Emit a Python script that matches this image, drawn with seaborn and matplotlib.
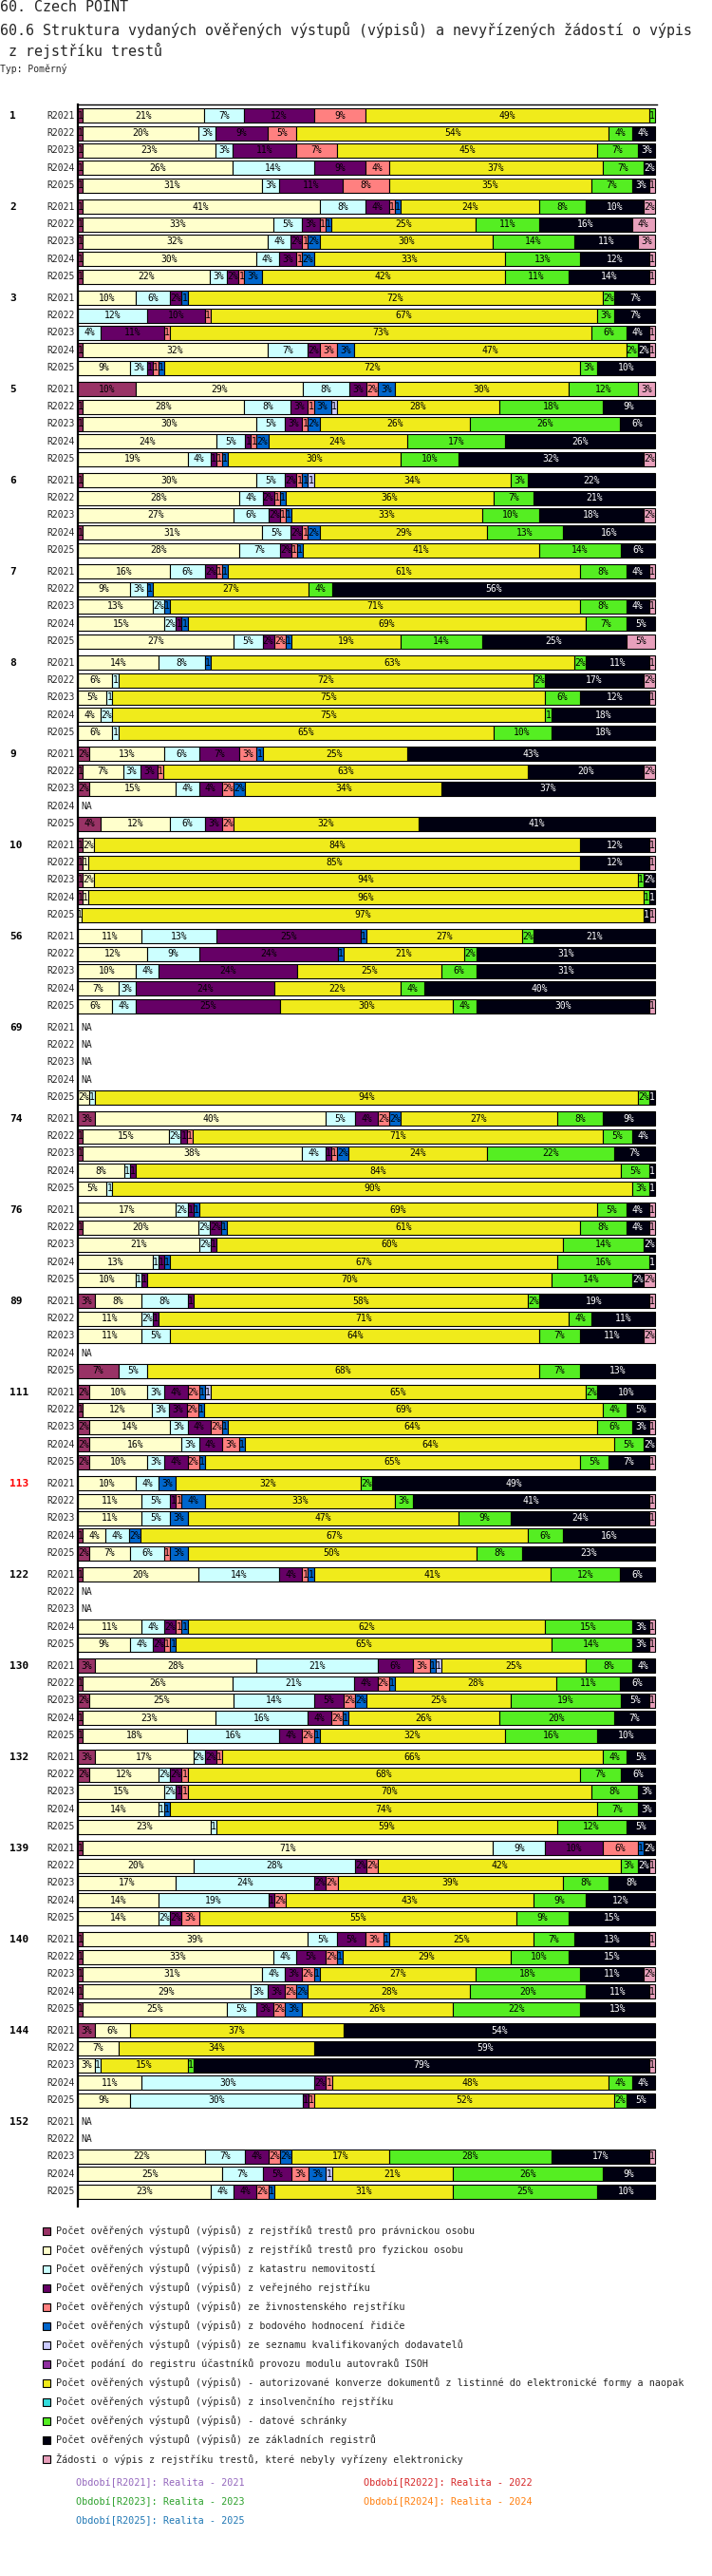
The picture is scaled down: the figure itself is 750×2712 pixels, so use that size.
import numpy as np
import pandas as pd
import matplotlib
matplotlib.use("Agg")
import matplotlib.pyplot as plt
import matplotlib.patches as mpatches
import seaborn as sns

# -----------------------------
# DATA
# -----------------------------

categories = [
    "Počet ověřených výstupů (výpisů) z rejstříků trestů pro právnickou osobu",
    "Počet ověřených výstupů (výpisů) z rejstříků trestů pro fyzickou osobu",
    "Počet ověřených výstupů (výpisů) z katastru nemovitostí",
    "Počet ověřených výstupů (výpisů) z veřejného rejstříku",
    "Počet ověřených výstupů (výpisů) ze živnostenského rejstříku",
    "Počet ověřených výstupů (výpisů) z bodového hodnocení řidiče",
    "Počet ověřených výstupů (výpisů) ze seznamu kvalifikovaných dodavatelů",
    "Počet podání do registru účastníků provozu modulu autovraků ISOH",
    "Počet ověřených výstupů (výpisů) - autorizované konverze dokumentů z listinné do elektronické formy a naopak",
    "Počet ověřených výstupů (výpisů) z insolvenčního rejstříku",
    "Počet ověřených výstupů (výpisů) - datové schránky",
    "Počet ověřených výstupů (výpisů) ze základních registrů",
    "Žádosti o výpis z rejstříku trestů, které nebyly vyřízeny elektronicky",
]

colors = ["#993366", "#FFFFCC", "#CCFFFF", "#660066", "#FF8080", "#0066CC",
          "#CCCCFF", "#9030A0", "#F0EB1B", "#33DDDD", "#55EE22", "#000011",
          "#E8A0BC"]

periods = ["R2021", "R2022", "R2023", "R2024", "R2025"]
period_names = ["Realita - 2021", "Realita - 2022", "Realita - 2023",
                "Realita - 2024", "Realita - 2025"]
period_colors = ["#9467BD", "#D62728", "#2CA02C", "#FF7F0E", "#1F77B4"]

groups = ["1", "2", "3", "5", "6", "7", "8", "9", "10", "56", "69", "74", "76",
          "89", "111", "113", "122", "130", "132", "139", "140", "144", "152"]

# one row per period, values per category (None = NA)
g1 = [[0.8, 21, 7, 12, 9, 0, 0, 0, 49, 0, 1, 0, 0],
      [0.8, 20, 3, 9, 5, 0, 0, 0, 54, 0, 4, 4, 0],
      [0.8, 23, 3, 11, 7, 0, 0, 0, 45, 0, 7, 3, 0],
      [0.8, 26, 14, 9, 4, 0, 0, 0, 37, 0, 7, 2, 0],
      [0.8, 31, 3, 11, 8, 0, 0, 0, 35, 0, 7, 3, 1]]
g2 = [[0.8, 41, 8, 4, 1, 1, 0, 0, 24, 0, 8, 10, 2],
      [0.8, 33, 5, 3, 1, 1, 0, 0, 25, 0, 11, 16, 4],
      [0.8, 32, 4, 2, 1, 2, 0, 0, 30, 0, 14, 11, 3],
      [0.8, 30, 4, 3, 1, 2, 0, 0, 33, 0, 13, 12, 1],
      [0.8, 22, 3, 2, 1, 3, 0, 0, 42, 0, 11, 14, 1]]
g3 = [[0, 10, 6, 2, 0, 1, 0, 0, 72, 0, 2, 7, 0],
      [0, 0, 12, 10, 1, 0, 0, 0, 67, 0, 3, 7, 0],
      [0, 0, 4, 11, 1, 0, 0, 0, 73, 0, 6, 4, 1],
      [0.8, 32, 7, 2, 3, 3, 0, 0, 47, 0, 2, 2, 1],
      [0, 9, 3, 1, 1, 1, 0, 0, 72, 0, 3, 10, 0]]
g5 = [[10, 29, 8, 3, 2, 3, 0, 0, 30, 0, 12, 0, 3],
      [0.8, 28, 8, 3, 1, 3, 1, 0, 28, 0, 18, 9, 0],
      [0.8, 30, 5, 3, 1, 2, 0, 0, 26, 0, 26, 6, 0],
      [0, 24, 5, 1, 1, 2, 0, 0, 24, 0, 17, 26, 0],
      [0, 19, 4, 1, 1, 1, 0, 0, 30, 0, 10, 32, 2]]
g6 = [[0.8, 30, 5, 2, 1, 1, 1, 0, 34, 0, 3, 22, 0],
      [0, 28, 4, 2, 1, 1, 0, 0, 36, 0, 7, 21, 0],
      [0, 27, 6, 2, 1, 1, 0, 0, 33, 0, 10, 18, 2],
      [0.8, 31, 5, 2, 1, 2, 0, 0, 29, 0, 13, 16, 0],
      [0, 28, 7, 2, 1, 1, 0, 0, 41, 0, 14, 6, 0]]
g7 = [[0, 16, 6, 2, 1, 1, 0, 0, 61, 0, 8, 4, 1],
      [0, 9, 3, 0, 0, 1, 0, 0, 27, 0, 4, 56, 0],
      [0, 13, 2, 0, 0, 1, 0, 0, 71, 0, 8, 4, 1],
      [0, 15, 2, 1, 0, 1, 0, 0, 69, 0, 7, 5, 0],
      [0, 27, 5, 2, 2, 1, 0, 0, 19, 0, 14, 25, 5]]
g8 = [[0, 14, 8, 0, 0, 1, 0, 0, 63, 0, 2, 11, 1],
      [0, 6, 1, 0, 0, 0, 0, 0, 72, 0, 2, 17, 2],
      [0, 5, 1, 0, 0, 0, 0, 0, 75, 0, 6, 12, 1],
      [0, 4, 2, 0, 0, 0, 0, 0, 75, 0, 1, 18, 0],
      [0, 6, 1, 0, 0, 0, 0, 0, 65, 0, 10, 18, 0]]
g9 = [[2, 13, 6, 7, 3, 1, 0, 0, 25, 0, 0, 43, 0],
      [0.8, 7, 3, 3, 1, 0, 0, 0, 63, 0, 0, 20, 2],
      [2, 15, 4, 4, 2, 2, 0, 0, 34, 0, 0, 37, 0],
      None,
      [4, 12, 6, 3, 2, 0, 0, 0, 32, 0, 0, 41, 0]]
g10 = [[0.8, 2, 0, 0, 0, 0, 0, 0, 84, 0, 0, 12, 1],
       [0.8, 1, 0, 0, 0, 0, 0, 0, 85, 0, 0, 12, 1],
       [0.8, 2, 0, 0, 0, 0, 0, 0, 94, 0, 1, 2, 0],
       [0.8, 1, 0, 0, 0, 0, 0, 0, 96, 0, 1, 1, 0],
       [0, 0.7, 0, 0, 0, 0, 0, 0, 97, 0, 0, 1, 1]]
g56 = [[0, 11, 13, 25, 0, 1, 0, 0, 27, 0, 2, 21, 0],
       [0, 12, 9, 24, 0, 1, 0, 0, 21, 0, 2, 31, 0],
       [0, 10, 4, 24, 0, 0, 0, 0, 25, 0, 6, 31, 0],
       [0, 7, 3, 24, 0, 0, 0, 0, 22, 0, 4, 40, 0],
       [0, 6, 4, 25, 0, 0, 0, 0, 30, 0, 4, 30, 1]]
g69 = [None, None, None, None,
       [0, 2, 1, 0, 0, 0, 0, 0, 94, 0, 2, 1, 0]]
g74 = [[3, 40, 5, 4, 2, 2, 0, 0, 27, 0, 8, 9, 0],
       [0.8, 15, 2, 1, 1, 0, 0, 0, 71, 0, 5, 4, 0],
       [0.8, 38, 4, 1, 1, 2, 0, 0, 24, 0, 22, 7, 0],
       [0, 8, 1, 1, 0, 0, 0, 0, 84, 0, 5, 1, 0],
       [0, 5, 1, 0, 0, 0, 0, 0, 90, 0, 3, 1, 0]]
g76 = [[0, 17, 2, 1, 0, 1, 0, 0, 69, 0, 5, 4, 1],
       [0.8, 20, 2, 2, 0, 1, 0, 0, 61, 0, 8, 4, 1],
       [0, 21, 2, 1, 0, 0, 0, 0, 60, 0, 14, 2, 0],
       [0, 13, 1, 1, 0, 1, 0, 0, 67, 0, 16, 1, 0],
       [0, 10, 1, 1, 0, 0, 0, 0, 70, 0, 14, 2, 2]]
g89 = [[3, 8, 8, 1, 0, 0, 0, 0, 58, 0, 2, 19, 1],
       [0, 11, 2, 1, 0, 0, 0, 0, 71, 0, 4, 11, 0],
       [0, 11, 5, 0, 0, 0, 0, 0, 64, 0, 7, 11, 2],
       None,
       [7, 0, 5, 0, 0, 0, 0, 0, 68, 0, 7, 13, 0]]
g111 = [[2, 10, 3, 4, 2, 1, 1, 0, 65, 0, 2, 10, 0],
        [0.8, 12, 3, 3, 2, 1, 0, 0, 69, 0, 4, 5, 0],
        [2, 14, 3, 4, 2, 1, 0, 0, 64, 0, 6, 3, 1],
        [2, 16, 3, 4, 3, 1, 0, 0, 64, 0, 5, 2, 0],
        [2, 10, 3, 4, 2, 1, 0, 0, 65, 0, 5, 7, 1]]
g113 = [[0, 10, 4, 0, 0, 3, 0, 0, 32, 0, 2, 49, 0],
        [0, 11, 5, 1, 1, 4, 0, 0, 33, 0, 3, 41, 1],
        [0, 11, 5, 0, 0, 3, 0, 0, 47, 0, 9, 24, 1],
        [0.8, 4, 4, 0, 0, 2, 0, 0, 67, 0, 6, 16, 0],
        [2, 7, 6, 0, 1, 3, 0, 0, 50, 0, 8, 23, 0]]
g122 = [[0.8, 20, 14, 4, 1, 1, 0, 0, 41, 0, 12, 6, 0],
        None,
        None,
        [0, 11, 4, 2, 1, 1, 0, 0, 62, 0, 15, 3, 1],
        [0, 9, 4, 2, 1, 1, 0, 0, 65, 0, 14, 3, 1]]
g130 = [[3, 28, 21, 6, 3, 1, 1, 0, 25, 0, 8, 4, 0],
        [0.8, 26, 21, 4, 2, 1, 0, 0, 28, 0, 11, 6, 0],
        [2, 25, 14, 5, 2, 2, 0, 0, 25, 0, 19, 5, 1],
        [0.8, 23, 16, 4, 2, 1, 0, 0, 26, 0, 20, 7, 0],
        [0.8, 18, 16, 4, 2, 1, 0, 0, 32, 0, 16, 10, 0]]
g132 = [[3, 17, 2, 2, 1, 0, 0, 0, 66, 0, 4, 5, 0],
        [2, 12, 2, 2, 1, 0, 0, 0, 68, 0, 7, 6, 0],
        [0, 15, 2, 1, 1, 0, 0, 0, 70, 0, 8, 3, 0],
        [0, 14, 1, 0, 0, 1, 0, 0, 74, 0, 7, 3, 0],
        [0, 23, 1, 0, 0, 0, 0, 0, 59, 0, 12, 5, 0]]
g139 = [[0.8, 71, 9, 10, 6, 1, 0, 0, 0, 0, 0, 2, 0],
        [0, 20, 28, 2, 2, 0, 0, 0, 42, 0, 3, 2, 1],
        [0, 17, 24, 2, 2, 0, 0, 0, 39, 0, 8, 8, 0],
        [0, 14, 19, 1, 2, 0, 0, 0, 43, 0, 9, 12, 0],
        [0, 14, 2, 2, 3, 0, 0, 0, 55, 0, 9, 15, 0]]
g140 = [[0.8, 39, 5, 5, 3, 1, 0, 0, 25, 0, 7, 13, 1],
        [0.8, 33, 4, 5, 2, 1, 0, 0, 29, 0, 10, 15, 0],
        [0.8, 31, 4, 3, 2, 1, 0, 0, 27, 0, 18, 11, 2],
        [0.8, 29, 3, 3, 2, 2, 0, 0, 28, 0, 20, 11, 1],
        [0.8, 25, 5, 3, 2, 3, 0, 0, 26, 0, 22, 13, 0]]
g144 = [[3, 6, 0, 0, 0, 0, 0, 0, 37, 0, 0, 54, 0],
        [0, 7, 0, 0, 0, 0, 0, 0, 34, 0, 0, 59, 0],
        [0, 3, 1, 0, 0, 0, 0, 0, 15, 0, 1, 79, 1],
        [0, 11, 30, 2, 1, 0, 0, 0, 48, 0, 4, 4, 0],
        [0, 9, 30, 1, 1, 0, 0, 0, 52, 0, 2, 5, 0]]
g152 = [None,
        None,
        [0, 22, 7, 4, 2, 2, 0, 0, 17, 0, 28, 17, 1],
        [0, 25, 7, 5, 3, 3, 1, 0, 21, 0, 26, 9, 0],
        [0, 23, 4, 4, 2, 1, 0, 0, 31, 0, 25, 10, 0]]

group_rows = [g1, g2, g3, g5, g6, g7, g8, g9, g10, g56, g69, g74, g76,
              g89, g111, g113, g122, g130, g132, g139, g140, g144, g152]

# -----------------------------
# TABLE OF SEGMENTS
# -----------------------------

records = []
na_rows = []
for gi, rows in enumerate(group_rows):
    for pi, row in enumerate(rows):
        if row is None:
            na_rows.append((gi, pi))
            continue
        vals = np.array(row, dtype=float)
        pct = vals / vals.sum() * 100
        left = np.concatenate([[0], np.cumsum(pct)[:-1]])
        for ci in range(len(categories)):
            if pct[ci] > 0:
                records.append({"group": gi, "period": pi, "cat": ci,
                                "left": left[ci], "width": pct[ci]})
df = pd.DataFrame(records)

# -----------------------------
# VISUALIZATION SETTINGS
# -----------------------------

sns.set_theme(style="white")
plt.rcParams['font.family'] = ['DejaVu Sans Mono', 'DejaVu Sans']

W, H = 750, 2712
fig = plt.figure(figsize=(W / 100, H / 100), dpi=100)

X0, X1 = 82, 692
Y0, Y1 = 110, 2323
PX_PER_PCT = 6.08
ax = fig.add_axes([X0 / W, 1 - Y1 / H, (X1 - X0) / W, (Y1 - Y0) / H])
ax.set_xlim(0, (X1 - X0) / PX_PER_PCT)
ax.set_ylim(Y1, Y0)


def row_y(gi, pi):
    return 121.8 + 96 * gi + 18.3 * pi


df["y"] = [row_y(g, p) for g, p in zip(df["group"], df["period"])]

CHAR_PX = 5.85  # advance of the mono font at 7 pt
for ci, color in enumerate(colors):
    sub = df[df["cat"] == ci]
    if sub.empty:
        continue
    bars = ax.barh(sub["y"], sub["width"], left=sub["left"], height=15,
                   color=color, edgecolor="black", linewidth=0.8)
    txt_color = "white" if ci == 11 else "black"
    for patch, (_, r) in zip(bars.patches, sub.iterrows()):
        label = f"{int(round(r['width']))}%"
        # narrow segments only show the part of the label that fits
        n_fit = max(1, int(r["width"] * PX_PER_PCT / CHAR_PX))
        t = ax.text(r["left"] + r["width"] / 2, r["y"], label[:n_fit],
                    ha="center", va="center", fontsize=7, color=txt_color)
        t.set_clip_path(patch)

for gi, pi in na_rows:
    ax.text(0.6, row_y(gi, pi), "NA", ha="left", va="center", fontsize=7)

ax.set_xticks([])
ax.set_yticks([])
sns.despine(ax=ax, top=False, right=True, bottom=True, left=False)
ax.spines["left"].set_linewidth(1.6)
ax.spines["top"].set_linewidth(1.0)
ax.spines["left"].set_color("black")
ax.spines["top"].set_color("black")

# overlay axes in pixel coordinates for texts and legend
ov = fig.add_axes([0, 0, 1, 1], zorder=5)
ov.set_xlim(0, W)
ov.set_ylim(H, 0)
ov.axis("off")
ov.patch.set_alpha(0)

ov.text(0, 8, "60. Czech POINT", fontsize=10.8, va="center")
ov.text(0, 31, "60.6 Struktura vydaných ověřených výstupů (výpisů) a nevyřízených žádostí o výpis",
        fontsize=10.8, va="center")
ov.text(0, 53, " z rejstříku trestů", fontsize=10.8, va="center")
ov.text(0, 73, "Typ: Poměrný", fontsize=7, va="center")

for gi, name in enumerate(groups):
    ov.text(10, row_y(gi, 0), name, fontsize=8, fontweight="bold", va="center",
            color="red" if name == "113" else "black")
    for pi, per in enumerate(periods):
        ov.text(79, row_y(gi, pi), per, fontsize=7, ha="right", va="center")

# legend
for ci, (name, color) in enumerate(zip(categories, colors)):
    y = 2349 + 20 * ci
    ov.add_patch(mpatches.Rectangle((45, y - 4), 8, 8, facecolor=color,
                                    edgecolor="black", linewidth=0.8))
    ov.text(59, y, name, fontsize=7.3, va="center")

for pi, (per, pname, pcol) in enumerate(zip(periods, period_names, period_colors)):
    x = 80 if pi % 2 == 0 else 383
    y = 2614 + 20 * (pi // 2)
    ov.text(x, y, f"Období[{per}]: {pname}", fontsize=7.3, va="center", color=pcol)

fig.savefig("out.png", dpi=100)
plt.close(fig)
